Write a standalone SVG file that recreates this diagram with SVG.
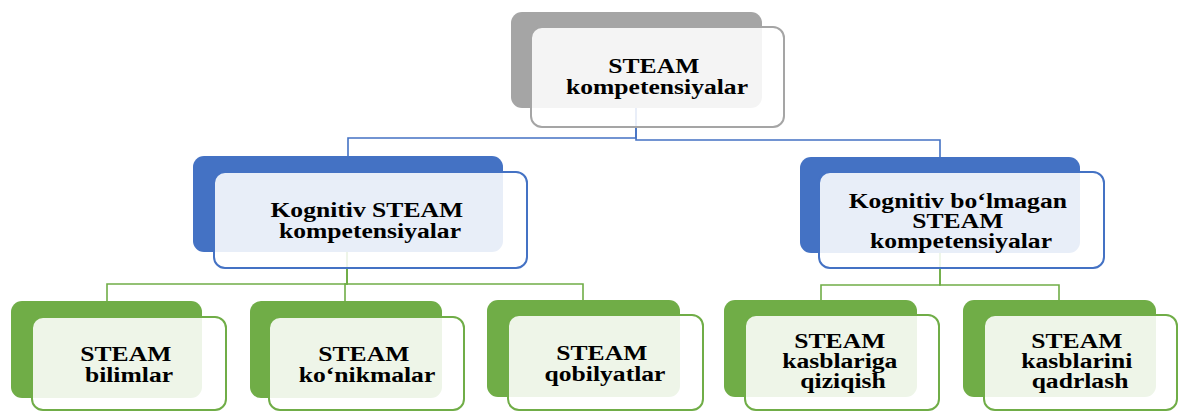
<svg xmlns="http://www.w3.org/2000/svg" width="1178" height="412" viewBox="0 0 1178 412">
  <style>
    .back-gray { fill: #a5a5a5; }
    .back-blue { fill: #4472c4; }
    .back-green { fill: #70ad47; }
    .front { fill: #ffffff; fill-opacity: 0.88; stroke-width: 2; }
    .front-gray { stroke: #a5a5a5; }
    .front-blue { stroke: #4472c4; }
    .front-green { stroke: #70ad47; }
    .link { fill: none; stroke-width: 1.6; }
    .link-blue { stroke: #4472c4; }
    .link-green { stroke: #70ad47; }
    .label { font-family: "Liberation Serif", "Times New Roman", serif; font-weight: bold; font-size: 20px; fill: #000000; text-anchor: middle; }
  </style>
  <rect width="1178" height="412" fill="#ffffff"/>

  <!-- connectors (drawn below the translucent cards) -->
  <g id="connectors">
    <path class="link link-blue" d="M636 108 V138 H348 V156"/>
    <path class="link link-blue" d="M636 108 V140 H940 V157"/>
    <path class="link link-green" d="M347 252 V284 H107 V301"/>
    <path class="link link-green" d="M347 252 V284 H345 V301"/>
    <path class="link link-green" d="M347 252 V284 H583 V300"/>
    <path class="link link-green" d="M940 253 V285 H821 V300"/>
    <path class="link link-green" d="M940 253 V285 H1059 V300"/>
  </g>

  <g id="node-root">
    <rect class="back-gray" x="511" y="12" width="251" height="96" rx="11"/>
    <rect class="front front-gray" x="531" y="27" width="253" height="100" rx="11"/>
    <text class="label" transform="translate(657 0) scale(1.28 1)">
      <tspan x="0" y="73">STEAM</tspan>
      <tspan x="0" y="94">kompetensiyalar</tspan>
    </text>
  </g>

  <g id="node-cognitive">
    <rect class="back-blue" x="193" y="156" width="310" height="96" rx="11"/>
    <rect class="front front-blue" x="214" y="172" width="313" height="96" rx="11"/>
    <text class="label" transform="translate(370 0) scale(1.28 1)">
      <tspan x="0" y="217">Kognitiv STEAM</tspan>
      <tspan x="0" y="238">kompetensiyalar</tspan>
    </text>
  </g>

  <g id="node-noncognitive">
    <rect class="back-blue" x="800" y="157" width="280" height="96" rx="11"/>
    <rect class="front front-blue" x="819" y="172" width="285" height="96" rx="11"/>
    <text class="label" transform="translate(961 0) scale(1.28 1)">
      <tspan x="0" y="208">Kognitiv bo‘lmagan</tspan>
      <tspan x="0" y="228">STEAM</tspan>
      <tspan x="0" y="248">kompetensiyalar</tspan>
    </text>
  </g>

  <g id="node-knowledge">
    <rect class="back-green" x="11" y="301" width="191" height="97" rx="11"/>
    <rect class="front front-green" x="32" y="317" width="194" height="93" rx="11"/>
    <text class="label" transform="translate(129 0) scale(1.28 1)">
      <tspan x="0" y="361">STEAM</tspan>
      <tspan x="0" y="382">bilimlar</tspan>
    </text>
  </g>

  <g id="node-skills">
    <rect class="back-green" x="250" y="301" width="192" height="97" rx="11"/>
    <rect class="front front-green" x="269" y="317" width="195" height="93" rx="11"/>
    <text class="label" transform="translate(367 0) scale(1.28 1)">
      <tspan x="0" y="361">STEAM</tspan>
      <tspan x="0" y="382">ko‘nikmalar</tspan>
    </text>
  </g>

  <g id="node-abilities">
    <rect class="back-green" x="487" y="300" width="193" height="97" rx="11"/>
    <rect class="front front-green" x="508" y="315" width="195" height="95" rx="11"/>
    <text class="label" transform="translate(605 0) scale(1.28 1)">
      <tspan x="0" y="360">STEAM</tspan>
      <tspan x="0" y="381">qobilyatlar</tspan>
    </text>
  </g>

  <g id="node-interest">
    <rect class="back-green" x="724" y="300" width="193" height="97" rx="11"/>
    <rect class="front front-green" x="745" y="315" width="194" height="95" rx="11"/>
    <text class="label" transform="translate(843 0) scale(1.28 1)">
      <tspan x="0" y="348">STEAM</tspan>
      <tspan x="0" y="368">kasblariga</tspan>
      <tspan x="0" y="388">qiziqish</tspan>
    </text>
  </g>

  <g id="node-appreciation">
    <rect class="back-green" x="963" y="300" width="193" height="97" rx="11"/>
    <rect class="front front-green" x="984" y="315" width="193" height="95" rx="11"/>
    <text class="label" transform="translate(1080 0) scale(1.28 1)">
      <tspan x="0" y="348">STEAM</tspan>
      <tspan x="0" y="368">kasblarini</tspan>
      <tspan x="0" y="388">qadrlash</tspan>
    </text>
  </g>
</svg>
